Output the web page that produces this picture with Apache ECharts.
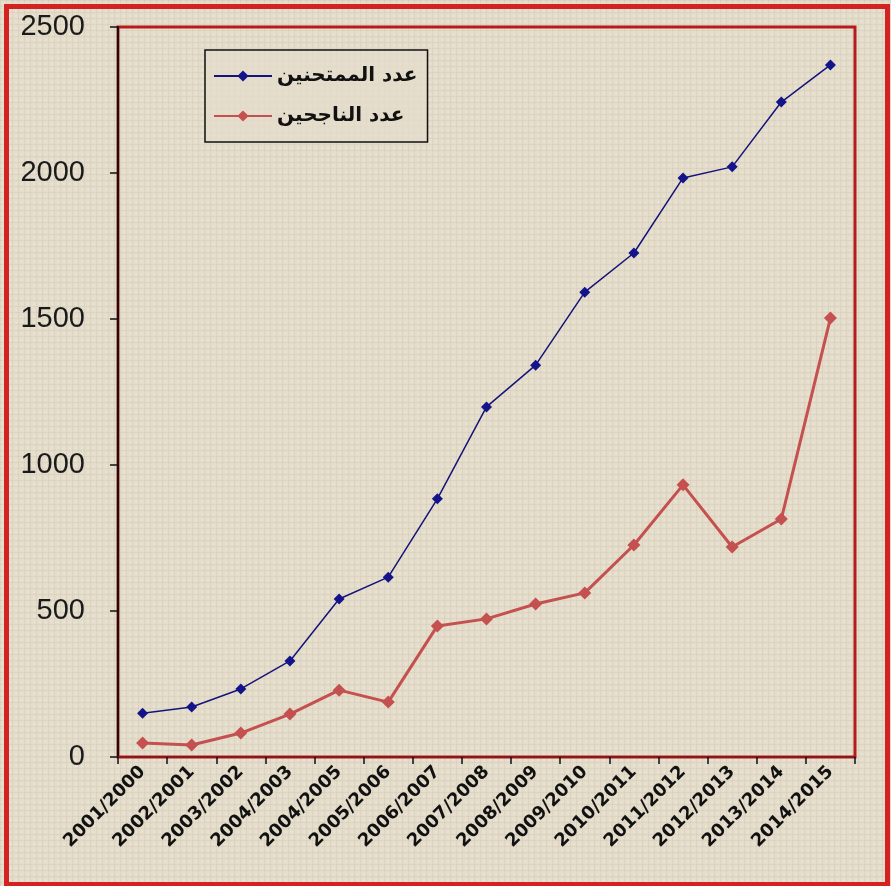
<!DOCTYPE html>
<html>
<head>
<meta charset="utf-8">
<style>
  html, body { margin: 0; padding: 0; background: #e4dccb; }
  #chart { width: 891px; height: 886px; }
</style>
<script src="https://cdn.jsdelivr.net/npm/echarts@6/dist/echarts.min.js"></script>
</head>
<body>
<div id="chart"></div>
<script>
// Academic years on the category axis
const years = [
  '2001/2000', '2002/2001', '2003/2002', '2004/2003', '2004/2005',
  '2005/2006', '2006/2007', '2007/2008', '2008/2009', '2009/2010',
  '2010/2011', '2011/2012', '2012/2013', '2013/2014', '2014/2015'
];
// Number of examinees
const examinees = [150, 171, 233, 329, 541, 616, 884, 1199, 1342, 1592, 1726, 1983, 2021, 2243, 2370];
// Number of successful candidates
const passed = [48, 41, 82, 147, 229, 188, 449, 473, 524, 562, 726, 932, 719, 815, 1503];
// Value axis range and step
const yMin = 0, yMax = 2500, yStep = 500;

const names = ['عدد الممتحنين', 'عدد الناجحين'];

// Soft woven paper texture tile
function paperTile() {
  const c = document.createElement('canvas');
  c.width = 6; c.height = 6;
  const g = c.getContext('2d');
  g.fillStyle = '#e5ddcc';
  g.fillRect(0, 0, 6, 6);
  g.fillStyle = 'rgba(140,125,100,0.09)';
  g.fillRect(0, 0, 6, 1);
  g.fillRect(0, 0, 1, 6);
  g.fillStyle = 'rgba(255,255,250,0.18)';
  g.fillRect(3, 3, 2, 2);
  return c;
}

const chart = echarts.init(document.getElementById('chart'), null, { renderer: 'canvas' });

chart.setOption({
  backgroundColor: { image: paperTile(), repeat: 'repeat' },
  animation: false,
  grid: {
    left: 118, right: 36, top: 27, bottom: 129,
    show: true, borderColor: '#b41c1c', borderWidth: 3,
    backgroundColor: 'transparent'
  },
  graphic: [{
    type: 'rect',
    left: 4, top: 4,
    shape: { width: 881, height: 878 },
    style: { fill: 'none', stroke: '#d42222', lineWidth: 5 },
    z: 100
  }],
  legend: {
    orient: 'vertical',
    left: 205, top: 50,
    padding: [16, 10, 16, 8],
    itemGap: 20,
    itemWidth: 58, itemHeight: 14,
    borderColor: '#111', borderWidth: 1.5,
    backgroundColor: 'rgba(229,221,204,0.7)',
    textStyle: {
      fontFamily: 'DejaVu Sans', fontWeight: 'bold', fontSize: 20, color: '#111'
    },
    data: names
  },
  xAxis: {
    type: 'category',
    data: years,
    boundaryGap: true,
    axisLine: { lineStyle: { color: '#8a1818', width: 2 } },
    axisTick: { show: true, alignWithLabel: false, length: 7, lineStyle: { color: '#111', width: 1.5 } },
    axisLabel: {
      rotate: 45, interval: 0, margin: 12,
      fontFamily: 'DejaVu Sans', fontWeight: 'bold', fontSize: 18, color: '#111'
    },
    splitLine: { show: false }
  },
  yAxis: {
    type: 'value',
    min: yMin, max: yMax, interval: yStep,
    axisLine: { show: true, lineStyle: { color: '#111', width: 2 } },
    axisTick: { show: true, length: 8, lineStyle: { color: '#111', width: 1.5 } },
    axisLabel: {
      margin: 33,
      formatter: (v) => String(v),
      fontFamily: 'Liberation Sans, Arial', fontSize: 29, color: '#1a1a1a'
    },
    splitLine: { show: false }
  },
  series: [
    {
      name: names[0],
      type: 'line',
      data: examinees,
      color: '#14147a',
      lineStyle: { color: '#14147a', width: 1.5 },
      symbol: 'diamond',
      symbolSize: 11,
      itemStyle: { color: '#14148a' },
      z: 3
    },
    {
      name: names[1],
      type: 'line',
      data: passed,
      color: '#c4504f',
      lineStyle: { color: '#c4504f', width: 3 },
      symbol: 'diamond',
      symbolSize: 13,
      itemStyle: { color: '#c4504f' },
      z: 2
    }
  ]
});
</script>
</body>
</html>
